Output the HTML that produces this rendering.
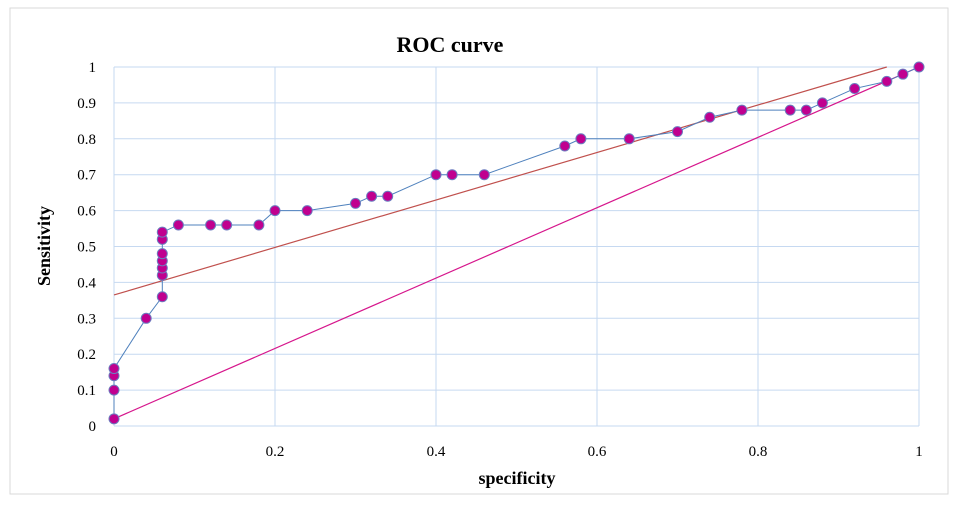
<!DOCTYPE html>
<html><head><meta charset="utf-8"><style>
html,body{margin:0;padding:0;background:#fff;}
svg text{font-family:"Liberation Serif",serif;}
</style></head><body>
<svg id="chart" width="959" height="503" viewBox="0 0 959 503" xmlns="http://www.w3.org/2000/svg">
<rect x="10" y="8" width="938" height="486" fill="#fff" stroke="#d9d9d9"/>
<text x="450" y="52" text-anchor="middle" font-size="22" font-weight="bold">ROC curve</text>
<text x="517" y="484" text-anchor="middle" font-size="18" font-weight="bold">specificity</text>
<text transform="translate(50,246) rotate(-90)" text-anchor="middle" font-size="18" font-weight="bold">Sensitivity</text>
<g id="grid"></g><g id="ticks"></g><g id="lines"></g><g id="pts"></g>
</svg>
<script>
const xTicks=[0,0.2,0.4,0.6,0.8,1];
const yTicks=[0,0.1,0.2,0.3,0.4,0.5,0.6,0.7,0.8,0.9,1];
const xVals=[0,0,0,0,0.04,0.06,0.06,0.06,0.06,0.06,0.06,0.06,0.08,0.12,0.14,0.18,0.2,0.24,0.3,0.32,0.34,0.4,0.42,0.46,0.56,0.58,0.64,0.7,0.74,0.78,0.84,0.86,0.88,0.92,0.96,0.98,1];
const yVals=[0.02,0.1,0.14,0.16,0.3,0.36,0.42,0.44,0.46,0.48,0.52,0.54,0.56,0.56,0.56,0.56,0.6,0.6,0.62,0.64,0.64,0.7,0.7,0.7,0.78,0.8,0.8,0.82,0.86,0.88,0.88,0.88,0.9,0.94,0.96,0.98,1];
const trendLine=[[0,0.365],[0.96,1.0]];
const refLine=[[0,0.02],[1,1]];
const NS="http://www.w3.org/2000/svg";
const X0=114,X1=919,Y0=426,Y1=67;
const sx=v=>X0+(X1-X0)*v, sy=v=>Y0-(Y0-Y1)*v;
function mk(t,a,p){const e=document.createElementNS(NS,t);for(const k in a)e.setAttribute(k,a[k]);p.appendChild(e);return e;}
const g=document.getElementById('grid'),tk=document.getElementById('ticks'),ln=document.getElementById('lines'),pt=document.getElementById('pts');
xTicks.forEach(v=>{const e=mk('line',{x1:sx(v),x2:sx(v),y1:Y1,y2:Y0,stroke:'#c6d9f1'},g);


const t=mk('text',{x:sx(v),y:456,'text-anchor':'middle','font-size':15},tk);t.textContent=String(v);

});
yTicks.forEach(v=>{const e=mk('line',{x1:X0,x2:X1,y1:sy(v),y2:sy(v),stroke:'#c6d9f1'},g);


const t=mk('text',{x:96,y:sy(v)+5,'text-anchor':'end','font-size':15},tk);t.textContent=String(v);

});
const r=mk('line',{x1:sx(refLine[0][0]),y1:sy(refLine[0][1]),x2:sx(refLine[1][0]),y2:sy(refLine[1][1]),stroke:'#d6168c','stroke-width':1.2},ln);


const tr=mk('line',{x1:sx(trendLine[0][0]),y1:sy(trendLine[0][1]),x2:sx(trendLine[1][0]),y2:sy(trendLine[1][1]),stroke:'#c0504d','stroke-width':1.2},ln);


const pl=mk('polyline',{points:xVals.map((x,i)=>sx(x)+','+sy(yVals[i])).join(' '),fill:'none',stroke:'#4f81bd','stroke-width':1},ln);


xVals.forEach((x,i)=>{const c=mk('circle',{cx:sx(x),cy:sy(yVals[i]),r:5,fill:'#c0008f',stroke:'#6c7bbf','stroke-width':1},pt);

});
</script>
</body></html>
